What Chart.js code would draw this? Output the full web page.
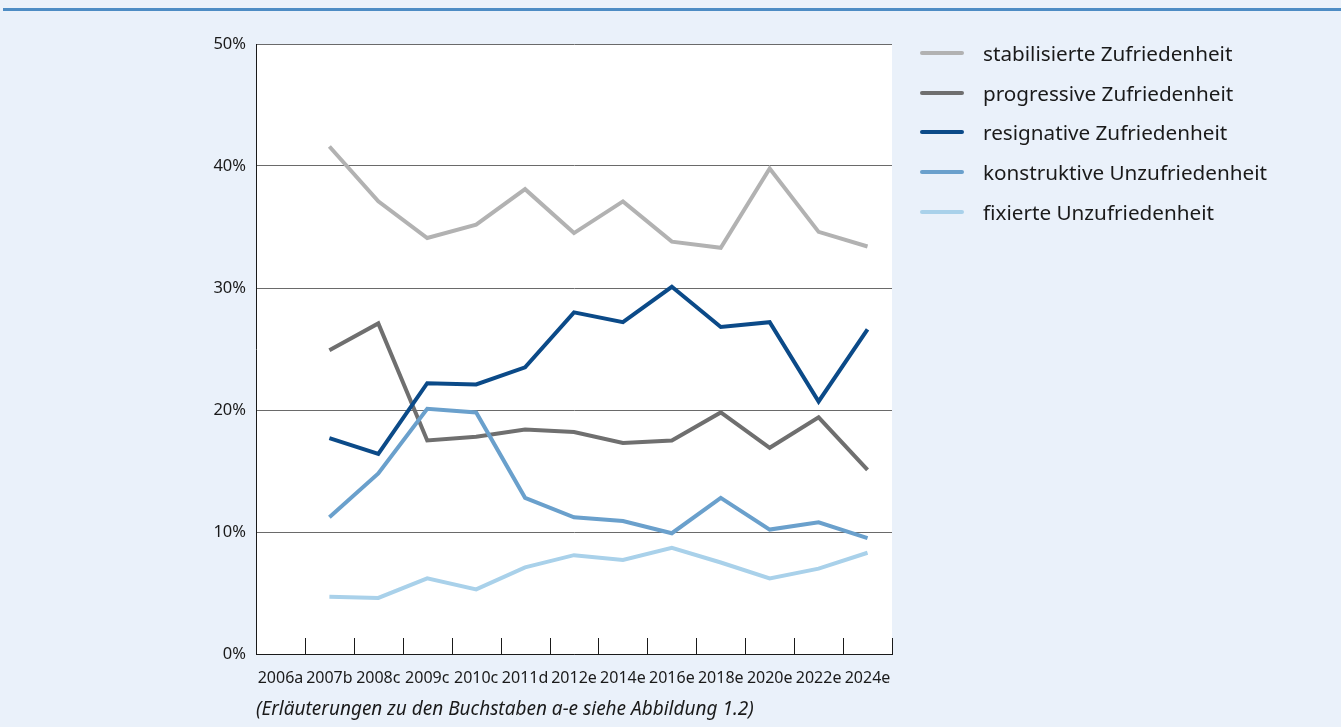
<!DOCTYPE html>
<html>
<head>
<meta charset="utf-8">
<script src="https://cdn.jsdelivr.net/npm/chart.js@4"></script>
<style>
  html, body { margin: 0; padding: 0; background: #eaf1fa; }
  body { width: 1341px; height: 727px; position: relative; overflow: hidden; font-family: "Noto Sans", sans-serif; }
  #topline { position: absolute; left: 3px; right: 0; top: 8px; height: 3px; background: #4d8cc4; }
  #wrap { position: absolute; left: 0; top: 0; width: 1341px; height: 727px; }
  #legend { position: absolute; left: 920px; top: 33px; }
  .item { height: 39.8px; display: flex; align-items: center; font-size: 20.7px; color: #1a1a1a; white-space: nowrap; }
  .swatch { width: 44px; height: 4px; border-radius: 2px; margin-right: 19px; }
  #note { position: absolute; left: 256px; top: 695px; font-size: 19px; font-style: italic; color: #1a1a1a; white-space: nowrap; }
</style>
</head>
<body>
<div id="topline"></div>
<div id="wrap"><canvas id="chart" width="1341" height="727"></canvas></div>
<div id="legend"></div>
<div id="note">(Erläuterungen zu den Buchstaben a-e siehe Abbildung 1.2)</div>
<script>
// Erhebungswellen (2006a ohne Werte)
const years = ['2006a', '2007b', '2008c', '2009c', '2010c', '2011d', '2012e', '2014e', '2016e', '2018e', '2020e', '2022e', '2024e'];

// Anteile in Prozent
const stabilisiert = [null, 41.6, 37.1, 34.1, 35.2, 38.1, 34.5, 37.1, 33.8, 33.3, 39.8, 34.6, 33.4];
const progressiv   = [null, 24.9, 27.1, 17.5, 17.8, 18.4, 18.2, 17.3, 17.5, 19.8, 16.9, 19.4, 15.1];
const resignativ   = [null, 17.7, 16.4, 22.2, 22.1, 23.5, 28.0, 27.2, 30.1, 26.8, 27.2, 20.7, 26.6];
const konstruktiv  = [null, 11.2, 14.8, 20.1, 19.8, 12.8, 11.2, 10.9, 9.9, 12.8, 10.2, 10.8, 9.5];
const fixiert      = [null, 4.7, 4.6, 6.2, 5.3, 7.1, 8.1, 7.7, 8.7, 7.5, 6.2, 7.0, 8.3];

const seriesNames = ['stabilisierte Zufriedenheit', 'progressive Zufriedenheit', 'resignative Zufriedenheit', 'konstruktive Unzufriedenheit', 'fixierte Unzufriedenheit'];
const seriesData = [stabilisiert, progressiv, resignativ, konstruktiv, fixiert];
const seriesColors = ['#b2b2b2', '#6f6f6f', '#0b4a88', '#6aa0cc', '#a9d1ea'];

const yTicks = [0, 10, 20, 30, 40, 50];

// white plot area + inner x ticks
const plotDecor = {
    id: 'plotDecor',
    beforeDraw(chart) {
        const a = chart.chartArea, ctx = chart.ctx;
        ctx.save();
        ctx.fillStyle = '#ffffff';
        ctx.fillRect(a.left, a.top, a.right - a.left, a.bottom - a.top);
        ctx.restore();
    },
    afterDatasetsDraw(chart) {
        const x = chart.scales.x, a = chart.chartArea, ctx = chart.ctx;
        const step = x.getPixelForTick(1) - x.getPixelForTick(0);
        ctx.save();
        ctx.strokeStyle = '#1a1a1a';
        ctx.lineWidth = 1;
        ctx.beginPath();
        for (let i = 0; i <= years.length; i++) {
            const px = Math.round(x.getPixelForTick(0) - step / 2 + i * step) + 0.5;
            ctx.moveTo(px, a.bottom - 16);
            ctx.lineTo(px, a.bottom);
        }
        ctx.stroke();
        ctx.restore();
    }
};

const ctx = document.getElementById('chart').getContext('2d');
const chart = new Chart(ctx, {
    type: 'line',
    data: {
        labels: years,
        datasets: seriesData.map((d, i) => ({
            label: seriesNames[i],
            data: d,
            borderColor: seriesColors[i],
            backgroundColor: seriesColors[i],
            borderWidth: 4,
            pointRadius: 0,
            tension: 0,
            spanGaps: false
        })).reverse()
    },
    options: {
        responsive: false,
        animation: false,
        layout: { padding: { left: 200, top: 44, right: 449, bottom: 0 } },
        plugins: {
            legend: { display: false },
            tooltip: { enabled: false }
        },
        scales: {
            x: {
                offset: true,
                grid: { display: false },
                border: { display: true, color: '#1a1a1a', width: 1 },
                ticks: {
                    color: '#1a1a1a',
                    font: { family: 'Noto Sans', size: 16 },
                    maxRotation: 0,
                    autoSkip: false,
                    padding: 7
                },
                afterFit(scale) { scale.height = 73; }
            },
            y: {
                min: 0,
                max: 50,
                afterBuildTicks(scale) { scale.ticks = yTicks.map(v => ({ value: v })); },
                grid: { color: '#6a6a6a', lineWidth: 1, drawTicks: false },
                border: { display: true, color: '#1a1a1a', width: 1 },
                ticks: {
                    color: '#1a1a1a',
                    font: { family: 'Noto Sans', size: 16.5 },
                    padding: 10,
                    callback: v => v + '%'
                },
                afterFit(scale) { scale.width = 56; }
            }
        }
    },
    plugins: [plotDecor]
});

// legend
const legend = document.getElementById('legend');
seriesNames.forEach((name, i) => {
    const row = document.createElement('div');
    row.className = 'item';
    row.innerHTML = '<span class="swatch" style="background:' + seriesColors[i] + '"></span>' + name;
    legend.appendChild(row);
});
</script>
</body>
</html>
